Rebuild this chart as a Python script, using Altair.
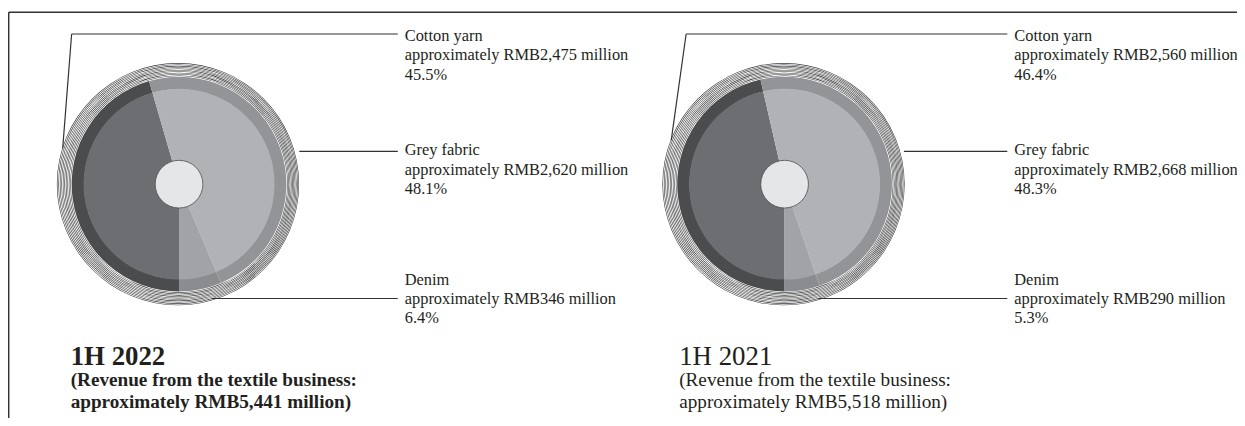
import math
import altair as alt
import pandas as pd

# ---------------- data ----------------
categories = ["Cotton yarn", "Grey fabric", "Denim"]
amounts_2022 = ["2,475", "2,620", "346"]
pct_2022 = [45.5, 48.1, 6.4]
amounts_2021 = ["2,560", "2,668", "290"]
pct_2021 = [46.4, 48.3, 5.3]
periods = ["1H 2022", "1H 2021"]
totals = ["5,441", "5,518"]

# ---------------- styling / layout ----------------
fill_colors = ["#6d6e71", "#b1b2b5", "#a2a3a6"]
ring_colors = ["#4b4c4e", "#939497", "#8b8c8f"]
FONT = "Liberation Serif"
W, H = 1236, 410
O = 8  # page margin


def px(v):
    return v - O


one = pd.DataFrame({"k": [0]})


def rule(x1, y1, x2, y2, color="#333333", sw=1.2):
    return alt.Chart(one).mark_rule(color=color, strokeWidth=sw).encode(
        x=alt.value(px(x1)), y=alt.value(px(y1)),
        x2=alt.value(px(x2)), y2=alt.value(px(y2)))


def text(t, x, y, size, bold=False, lh=19.5):
    return alt.Chart(one).mark_text(
        align="left", baseline="alphabetic", font=FONT, fontSize=size,
        fontWeight="bold" if bold else "normal", color="#231f20",
        lineBreak="\n", lineHeight=lh
    ).encode(x=alt.value(px(x)), y=alt.value(px(y)), text=alt.value(t))


def pie(pcts, cx, cy):
    df = pd.DataFrame({"category": categories, "pct": pcts, "idx": [0, 1, 2]})
    theta = alt.Theta("pct:Q", stack=True,
                      scale=alt.Scale(domain=[0, 100], range=[math.pi, 3 * math.pi]))
    base = alt.Chart(df).encode(theta=theta, order=alt.Order("idx:Q"),
                                x=alt.value(px(cx)), y=alt.value(px(cy)))
    layers = []
    # outer decorative stripes
    n = 10
    for i in range(n):
        r = 108.8 + i * 1.38
        layers.append(alt.Chart(one).mark_arc(
            theta=0, theta2=2 * math.pi, radius=r + 0.6, radius2=r,
            color="#3a3a3a").encode(x=alt.value(px(cx) - 0.12 * i), y=alt.value(px(cy))))
    ring = base.mark_arc(radius=108, radius2=95.5).encode(
        color=alt.Color("category:N", scale=alt.Scale(domain=categories, range=ring_colors),
                        legend=None))
    inner = base.mark_arc(radius=96, radius2=23).encode(
        fill=alt.Fill("category:N", scale=alt.Scale(domain=categories, range=fill_colors),
                      legend=None))
    hole = alt.Chart(one).mark_arc(theta=0, theta2=2 * math.pi, radius=24,
                                   fill="#e5e6e7", stroke="#4d4d4d", strokeWidth=0.8).encode(
        x=alt.value(px(cx)), y=alt.value(px(cy)))
    return layers + [ring, inner, hole]


def label_block(cats, amts, pcts, x, ys):
    out = []
    for c, a, p, y in zip(cats, amts, pcts, ys):
        out.append(text(f"{c}\napproximately RMB{a} million\n{p:.1f}%", x, y, 16.5))
    return out


layers = []
# frame
layers.append(rule(8.7, 11, 1245, 11, sw=1.5))
layers.append(rule(8.7, 11, 8.7, 430, sw=1.5))

# pie 1
layers += pie(pct_2022, 180, 184)
layers.append(rule(63, 148, 72, 33))
layers.append(rule(72, 33, 400, 33))
layers.append(rule(301, 151, 400, 151))
layers.append(rule(213, 299, 400, 299))
layers += label_block(categories, amounts_2022, pct_2022, 407, [40, 155, 285])
layers.append(text(periods[0], 71, 366, 27, bold=True))
layers.append(text(f"(Revenue from the textile business:\napproximately RMB{totals[0]} million)",
                   71, 387, 19.3, bold=True, lh=22))

# pie 2
layers += pie(pct_2021, 789, 184)
layers.append(rule(675, 140, 690, 33))
layers.append(rule(690, 33, 1013, 33))
layers.append(rule(909, 151, 1013, 151))
layers.append(rule(823, 299, 1013, 299))
layers += label_block(categories, amounts_2021, pct_2021, 1020, [40, 155, 285])
layers.append(text(periods[1], 683, 366, 27))
layers.append(text(f"(Revenue from the textile business:\napproximately RMB{totals[1]} million)",
                   683, 387, 19.3, lh=22))

chart = alt.layer(*layers).resolve_scale(
    color="independent", fill="independent", theta="independent"
).properties(
    width=W, height=H, padding=0, autosize=alt.AutoSizeParams(type="none"),
    background="white"
).configure_view(stroke=None)

chart.save("out.html", embed_options={"renderer": "svg", "actions": False})
